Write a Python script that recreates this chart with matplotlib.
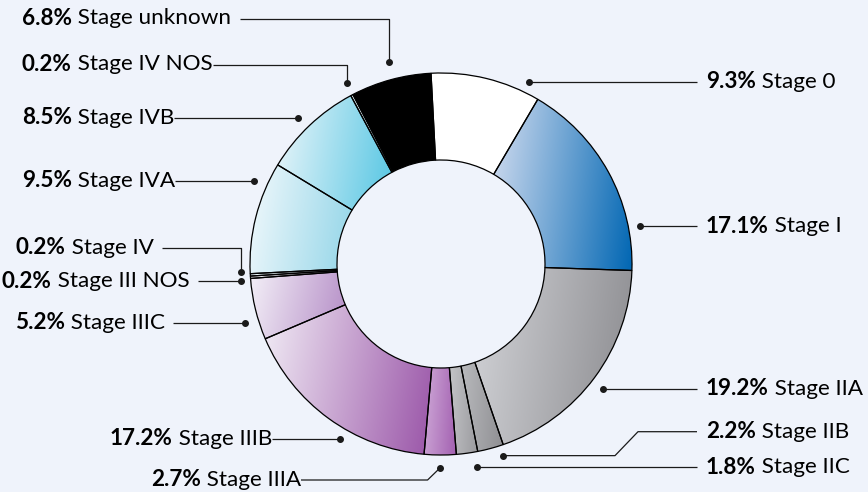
import matplotlib
matplotlib.use("Agg")
import matplotlib.pyplot as plt
import numpy as np
from matplotlib.colors import to_rgb

# Distribución por estadio (%)
etapas = ["Stage 0", "Stage I", "Stage IIA", "Stage IIB", "Stage IIC", "Stage IIIA",
          "Stage IIIB", "Stage IIIC", "Stage III NOS", "Stage IV", "Stage IVA",
          "Stage IVB", "Stage IV NOS", "Stage unknown"]
porcentajes = [9.3, 17.1, 19.2, 2.2, 1.8, 2.7, 17.2, 5.2, 0.2, 0.2, 9.5, 8.5, 0.2, 6.8]

# Degradado (izquierda, derecha) de cada sector
degradados = [
    ("#ffffff", "#ffffff"),
    ("#d3ddf0", "#0066b3"),
    ("#d2d3d7", "#8a8a8e"),
    ("#b9babd", "#8e8e92"),
    ("#c4c5c8", "#9a9a9e"),
    ("#cfaad8", "#a25fb0"),
    ("#f1ecf5", "#9a55a8"),
    ("#f3eff7", "#b48cc6"),
    ("#f4f4f8", "#e8e4f0"),
    ("#eef8fb", "#d8eef5"),
    ("#f2f9fc", "#92d5e8"),
    ("#ecf6fa", "#55c6e3"),
    ("#e6f4f9", "#bfe6f1"),
    ("#000000", "#000000"),
]

FONDO = "#eff3fb"
W, H = 868, 492
CX, CY, R = 441, 264, 191   # centro y radio en px (y desde arriba)
ANCHO = 87

# (angulo del punto, radio relativo, x texto, y texto, tipo de guía)
# y texto = None -> se usa la altura del punto
guias = [
    (64.1, 1.06, 706, None, "der"),
    (10.7, 1.06, 706, None, "der"),
    (-37.7, 1.07, 706, None, "der"),
    (-72.0, 1.055, 706, 431.7, "der_quiebre"),
    (-79.9, 1.08, 706, None, "der"),
    (-90.4, 1.07, 151, 480, "izq_quiebre"),
    (-120.0, 1.055, 110, None, "izq"),
    (-163.3, 1.07, 15, None, "izq"),
    (-175.0, 1.05, 2, None, "izq"),
    (-177.6, 1.05, 16, 248, "izq_codo"),
    (156.0, 1.07, 22, None, "izq"),
    (134.4, 1.07, 22, None, "izq"),
    (117.4, 1.065, 22, 64.5, "izq_codo"),
    (104.5, 1.095, 22, 18.5, "izq_codo"),
]
huecos = [0, 0, 0, 0, 0, 0, 0, 8, 8, 8, 0, 0, 0, 9]

plt.rcParams["font.family"] = ["Lato", "DejaVu Sans"]
TAM = 16.2


def Y(y):
    return H - y


fig = plt.figure(figsize=(W / 100, H / 100), dpi=100, facecolor=FONDO)
ax = fig.add_axes([0, 0, 1, 1])
ax.set_facecolor(FONDO)

cunas, _ = ax.pie(porcentajes, center=(CX, Y(CY)), radius=R, startangle=93,
                  counterclock=False,
                  wedgeprops=dict(width=ANCHO, facecolor="none",
                                  edgecolor="black", linewidth=0.9, zorder=3))

# relleno con degradado recortado a cada sector
n = 200
gx, gy = np.meshgrid(np.linspace(0, 1, n), np.linspace(0, 1, n))
t = np.clip(0.85 * gx + 0.15 * (1 - gy), 0, 1)[..., None]
for cuna, (c0, c1) in zip(cunas, degradados):
    bb = cuna.get_path().get_extents()
    img = (1 - t) * np.array(to_rgb(c0)) + t * np.array(to_rgb(c1))
    im = ax.imshow(img, extent=[bb.x0, bb.x1, bb.y0, bb.y1], origin="lower",
                   interpolation="bilinear", zorder=2)
    im.set_clip_path(cuna)

ax.set_xlim(0, W)
ax.set_ylim(0, H)
ax.set_aspect("auto")
ax.axis("off")

renderer = fig.canvas.get_renderer()
LINEA = dict(color="#1a1a1a", lw=0.9, zorder=4, solid_capstyle="butt")

for etiqueta, pct, (ang, rr, tx, ty, tipo), hueco in zip(etapas, porcentajes, guias, huecos):
    a = np.radians(ang)
    px = CX + rr * R * np.cos(a)
    py = CY - rr * R * np.sin(a)
    if ty is None:
        ty = py
    t1 = ax.text(tx, Y(ty), f"{pct}%", fontsize=TAM, fontweight="bold",
                 va="center", ha="left", color="black", zorder=5)
    bb1 = t1.get_window_extent(renderer)
    t2 = ax.text(bb1.x1, Y(ty), " " + etiqueta, fontsize=TAM, va="center",
                 ha="left", color="black", zorder=5)
    fin_txt = t2.get_window_extent(renderer).x1 + hueco

    if tipo == "der":
        xs, ys = [px, tx - 9], [py, py]
    elif tipo == "der_quiebre":
        xs, ys = [px, 615, 638, tx - 9], [py, py, ty, ty]
    elif tipo == "izq":
        xs, ys = [fin_txt, px], [py, py]
    elif tipo == "izq_codo":
        xs, ys = [fin_txt, px, px], [ty, ty, py]
    else:  # izq_quiebre
        xs, ys = [fin_txt, px - 12, px], [ty, ty, py]
    ax.plot(xs, [Y(v) for v in ys], **LINEA)
    ax.plot(px, Y(py), "o", color="#1a1a1a", ms=4, zorder=5)

fig.savefig("out.png", dpi=100, facecolor=FONDO)
